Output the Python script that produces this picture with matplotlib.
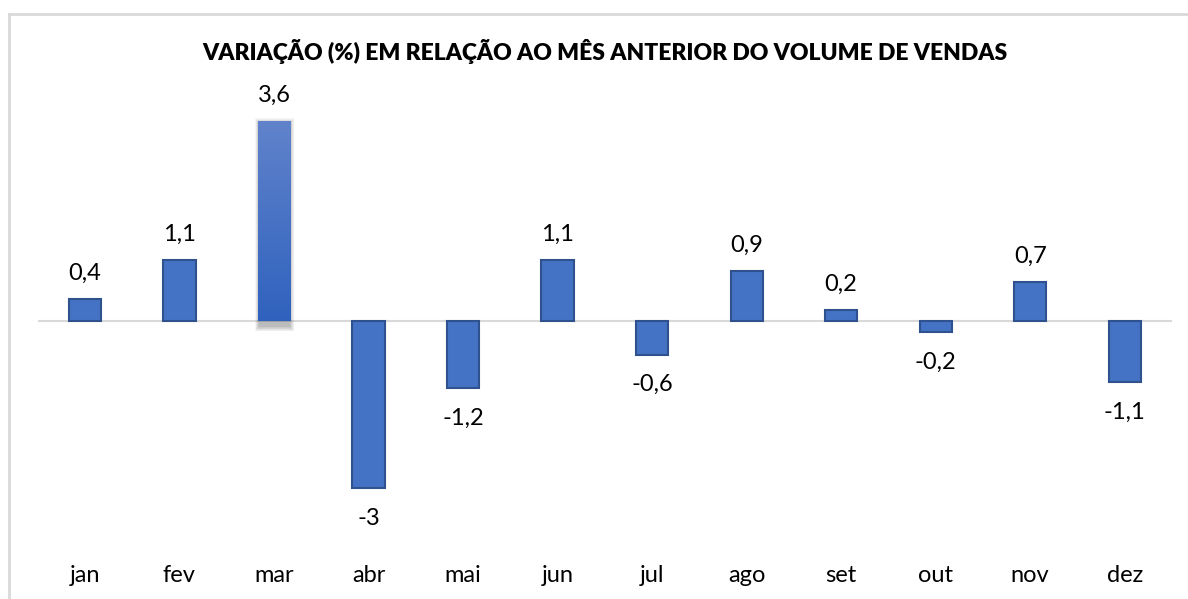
import numpy as np
import matplotlib.pyplot as plt
from matplotlib import patches
from matplotlib.lines import Line2D
from matplotlib.colors import LinearSegmentedColormap

plt.rcParams['font.family'] = ['Lato', 'DejaVu Sans']

meses = ["jan", "fev", "mar", "abr", "mai", "jun", "jul", "ago", "set", "out", "nov", "dez"]
variacao = [0.4, 1.1, 3.6, -3, -1.2, 1.1, -0.6, 0.9, 0.2, -0.2, 0.7, -1.1]
rotulos = ["0,4", "1,1", "3,6", "-3", "-1,2", "1,1", "-0,6", "0,9", "0,2", "-0,2", "0,7", "-1,1"]
titulo = "VARIAÇÃO (%) EM RELAÇÃO AO MÊS ANTERIOR DO VOLUME DE VENDAS"

fig = plt.figure(figsize=(11.88, 5.99), dpi=100)
ax = fig.add_axes([0.0317, 0.0735, 0.9548, 0.785])

# moldura cinza do grafico
fig.add_artist(Line2D([9 / 1188, 1.0], [1 - 14 / 599] * 2, color="#d9d9d9", lw=2))
fig.add_artist(Line2D([9 / 1188] * 2, [0, 1 - 14 / 599], color="#d9d9d9", lw=2))

x = np.arange(len(meses))
largura = 0.34
bars = ax.bar(x, variacao, width=largura, color="#4472c4", edgecolor="#2f528f", linewidth=1.5, zorder=3)

# barra de marco com gradiente e sombra
destaque = bars[2]
destaque.set_visible(False)
bx, by = destaque.get_x(), destaque.get_y()
bw, bh = destaque.get_width(), destaque.get_height()
for k in range(8):
    d = 0.006 * k
    ax.add_patch(patches.Rectangle((bx - d + 0.012, by - 0.1 - d * 2), bw + 2 * d - 0.01, bh + 0.06 + 4 * d,
                                   facecolor="black", alpha=0.035, edgecolor="none", zorder=2))
grad = np.linspace(0, 1, 256).reshape(-1, 1)
cmap = LinearSegmentedColormap.from_list("g", ["#2f62be", "#6183cb"])
im = ax.imshow(grad, extent=(bx, bx + bw, by, by + bh), origin="lower", cmap=cmap, aspect="auto", zorder=3)
clip = patches.Rectangle((bx, by), bw, bh, transform=ax.transData)
im.set_clip_path(clip)

ax.axhline(0, color="#d9d9d9", lw=1.5, zorder=1)

for xi, v, r in zip(x, variacao, rotulos):
    off = 26 if v >= 0 else -30
    ax.annotate(r, (xi, v), xytext=(0, off / 1.389), textcoords="offset points",
                ha="center", va="center", fontsize=17, color="#000000")

ax.set_xlim(-0.5, len(meses) - 0.5)
ax.set_ylim(-4.2, 4.25)
ax.set_xticks(x)
ax.set_xticklabels(meses, fontsize=17)
ax.tick_params(axis="x", length=0, pad=7)
ax.set_yticks([])
for s in ax.spines.values():
    s.set_visible(False)

fig.text(605 / 1188, 1 - 51 / 599, titulo, ha="center", va="center", fontsize=16.5, fontweight="heavy")

plt.savefig("out.png", dpi=100)
